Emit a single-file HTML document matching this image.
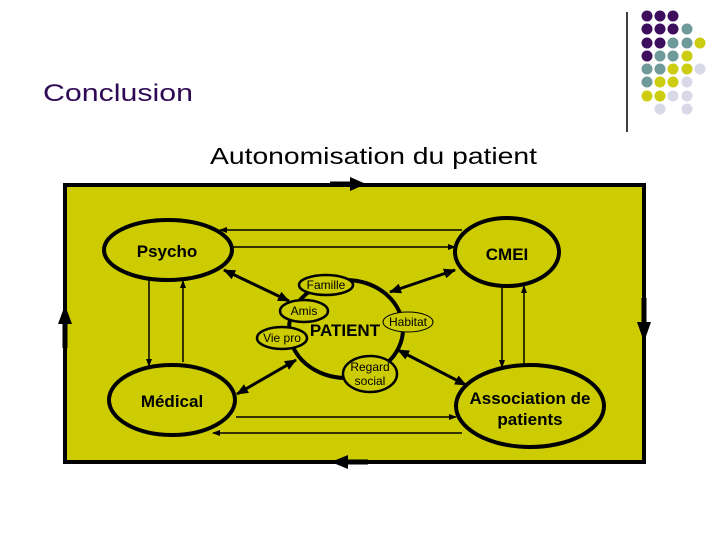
<!DOCTYPE html>
<html><head><meta charset="utf-8"><style>
html,body{margin:0;padding:0;background:#fff;width:720px;height:540px;overflow:hidden}
svg{display:block}
text{font-family:"Liberation Sans",sans-serif}
</style></head><body>
<svg width="720" height="540" viewBox="0 0 720 540">
<defs>
<marker id="a" markerWidth="8" markerHeight="8" refX="7" refY="4" orient="auto" markerUnits="userSpaceOnUse"><path d="M0,1 L8,4 L0,7 Z" fill="#000"/></marker>
<marker id="b" markerWidth="12" markerHeight="10" refX="11" refY="5" orient="auto" markerUnits="userSpaceOnUse"><path d="M0,0 L12,5 L0,10 Z" fill="#000"/></marker>
<marker id="bs" markerWidth="12" markerHeight="10" refX="1" refY="5" orient="auto" markerUnits="userSpaceOnUse"><path d="M12,0 L0,5 L12,10 Z" fill="#000"/></marker>
</defs>
<!-- decoration -->
<line x1="627" y1="12" x2="627" y2="132" stroke="#000" stroke-width="1.5"/>
<g>
<circle cx="647" cy="16" r="5.5" fill="#3d0e5e"/><circle cx="660" cy="16" r="5.5" fill="#3d0e5e"/><circle cx="673" cy="16" r="5.5" fill="#3d0e5e"/>
<circle cx="647" cy="29" r="5.5" fill="#3d0e5e"/><circle cx="660" cy="29" r="5.5" fill="#3d0e5e"/><circle cx="673" cy="29" r="5.5" fill="#3d0e5e"/><circle cx="687" cy="29" r="5.5" fill="#6f9a9a"/>
<circle cx="647" cy="43" r="5.5" fill="#3d0e5e"/><circle cx="660" cy="43" r="5.5" fill="#3d0e5e"/><circle cx="673" cy="43" r="5.5" fill="#6f9a9a"/><circle cx="687" cy="43" r="5.5" fill="#6f9a9a"/><circle cx="700" cy="43" r="5.5" fill="#cccc11"/>
<circle cx="647" cy="56" r="5.5" fill="#3d0e5e"/><circle cx="660" cy="56" r="5.5" fill="#6f9a9a"/><circle cx="673" cy="56" r="5.5" fill="#6f9a9a"/><circle cx="687" cy="56" r="5.5" fill="#cccc11"/>
<circle cx="647" cy="69" r="5.5" fill="#6f9a9a"/><circle cx="660" cy="69" r="5.5" fill="#6f9a9a"/><circle cx="673" cy="69" r="5.5" fill="#cccc11"/><circle cx="687" cy="69" r="5.5" fill="#cccc11"/><circle cx="700" cy="69" r="5.5" fill="#d8d8e8"/>
<circle cx="647" cy="82" r="5.5" fill="#6f9a9a"/><circle cx="660" cy="82" r="5.5" fill="#cccc11"/><circle cx="673" cy="82" r="5.5" fill="#cccc11"/><circle cx="687" cy="82" r="5.5" fill="#d8d8e8"/>
<circle cx="647" cy="96" r="5.5" fill="#cccc11"/><circle cx="660" cy="96" r="5.5" fill="#cccc11"/><circle cx="673" cy="96" r="5.5" fill="#d8d8e8"/><circle cx="687" cy="96" r="5.5" fill="#d8d8e8"/>
<circle cx="660" cy="109" r="5.5" fill="#d8d8e8"/><circle cx="687" cy="109" r="5.5" fill="#d8d8e8"/>
</g>
<text x="43" y="101" font-size="24" fill="#2e0a55" textLength="150" lengthAdjust="spacingAndGlyphs">Conclusion</text>
<text x="210" y="164" font-size="23" fill="#000" textLength="327" lengthAdjust="spacingAndGlyphs">Autonomisation du patient</text>
<!-- frame -->
<rect x="65" y="185" width="579" height="277" fill="#cccc00" stroke="#000" stroke-width="4"/>
<!-- outer arrows -->
<line x1="330" y1="184" x2="352" y2="184" stroke="#000" stroke-width="5"/><path d="M350,177 L366,184 L350,191 Z"/>
<line x1="368" y1="462" x2="346" y2="462" stroke="#000" stroke-width="5"/><path d="M348,455 L331,462 L348,469 Z"/>
<line x1="65" y1="348" x2="65" y2="322" stroke="#000" stroke-width="5"/><path d="M58,324 L65,305 L72,324 Z"/>
<line x1="644" y1="298" x2="644" y2="324" stroke="#000" stroke-width="5"/><path d="M637,322 L644,342 L651,322 Z"/>
<!-- connector lines -->
<g stroke="#000" stroke-width="1.5" fill="none" marker-end="url(#a)">
<line x1="462" y1="230" x2="220" y2="230"/>
<line x1="232" y1="247" x2="455" y2="247"/>
<line x1="236" y1="417" x2="456" y2="417"/>
<line x1="462" y1="433" x2="213" y2="433"/>
<line x1="149" y1="280" x2="149" y2="366"/>
<line x1="183" y1="362" x2="183" y2="281"/>
<line x1="502" y1="287" x2="502" y2="367"/>
<line x1="524" y1="364" x2="524" y2="286"/>
</g>
<g stroke="#000" stroke-width="3" fill="none" marker-end="url(#b)" marker-start="url(#bs)">
<line x1="224" y1="270" x2="289" y2="301"/>
<line x1="237" y1="394" x2="296" y2="360"/>
<line x1="455" y1="270" x2="390" y2="292"/>
<line x1="466" y1="385" x2="398" y2="350"/>
</g>
<!-- nodes -->
<g stroke="#000" stroke-width="4" fill="#cccc00">
<ellipse cx="168" cy="250" rx="64" ry="30"/>
<ellipse cx="172" cy="400" rx="63" ry="35"/>
<ellipse cx="507" cy="252" rx="52" ry="34"/>
<ellipse cx="530" cy="406" rx="74" ry="41"/>
<ellipse cx="346" cy="329" rx="57" ry="49"/>
</g>
<g stroke="#000" stroke-width="2.5" fill="#cccc00">
<ellipse cx="326" cy="285" rx="27" ry="10"/>
<ellipse cx="304" cy="311" rx="24" ry="11"/>
<ellipse cx="282" cy="338" rx="25" ry="11"/>
<ellipse cx="370" cy="374" rx="27" ry="18"/>
</g>
<ellipse cx="408" cy="322" rx="25" ry="10" stroke="#000" stroke-width="1" fill="#cccc00"/>
<g font-weight="bold" fill="#000" text-anchor="middle">
<text x="167" y="257" font-size="17">Psycho</text>
<text x="172" y="407" font-size="17">Médical</text>
<text x="507" y="260" font-size="17">CMEI</text>
<text x="530" y="404" font-size="17">Association de</text>
<text x="530" y="425" font-size="17">patients</text>
<text x="345" y="336" font-size="17">PATIENT</text>
</g>
<g font-family="Liberation Serif,serif" font-size="12" fill="#000" text-anchor="middle" style="font-family:'Liberation Serif',serif">
<text x="326" y="289">Famille</text>
<text x="304" y="315">Amis</text>
<text x="282" y="342">Vie pro</text>
<text x="408" y="326">Habitat</text>
<text x="370" y="371">Regard</text>
<text x="370" y="385">social</text>
</g>
</svg>
</body></html>
